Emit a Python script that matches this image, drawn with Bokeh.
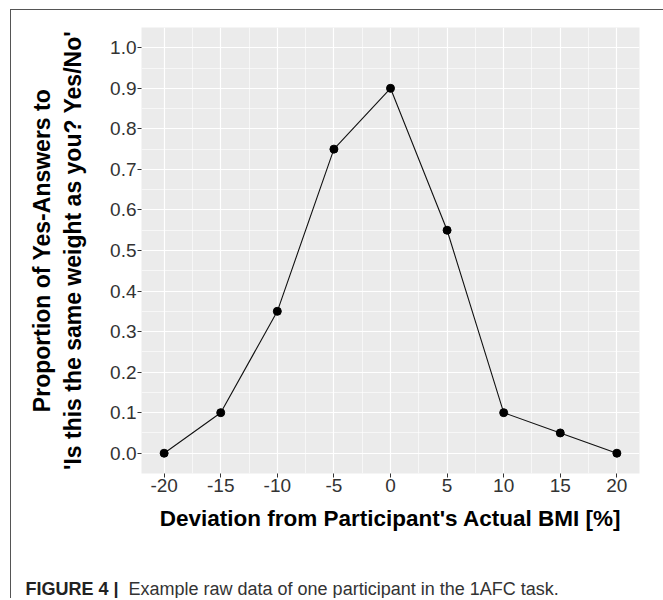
from bokeh.plotting import figure
from bokeh.layouts import column
from bokeh.models import FixedTicker, PrintfTickFormatter, Range1d
from bokeh.core.properties import value
from bokeh.embed import file_html
from bokeh.resources import INLINE

# ---- data ----
deviation = [-20, -15, -10, -5, 0, 5, 10, 15, 20]
yes_prop = [0.0, 0.1, 0.35, 0.75, 0.9, 0.55, 0.1, 0.05, 0.0]
x_ticks = [-20, -15, -10, -5, 0, 5, 10, 15, 20]
y_ticks = [0.0, 0.1, 0.2, 0.3, 0.4, 0.5, 0.6, 0.7, 0.8, 0.9, 1.0]
x_title = "Deviation from Participant's Actual BMI [%]"
y_title = "Proportion of Yes-Answers to\n'Is this the same weight as you? Yes/No'"
caption_bold = "FIGURE 4 |"
caption_text = "Example raw data of one participant in the 1AFC task."

FONT = "Liberation Sans"
W, H = 652, 538
FL, FT, FR, FB = 130, 17, 628, 463  # frame box in figure px

p = figure(width=W, height=H, output_backend="svg", toolbar_location=None,
           title=None,
           x_range=Range1d(-22, 22), y_range=Range1d(-0.05, 1.05),
           min_border_left=FL, min_border_right=W - FR,
           min_border_top=FT, min_border_bottom=H - FB)
p.frame_align = False
p.background_fill_color = "#EBEBEB"
p.border_fill_color = "white"
p.outline_line_color = None

x_minor = [(a + b) / 2 for a, b in zip(x_ticks[:-1], x_ticks[1:])]
y_minor = [(a + b) / 2 for a, b in zip(y_ticks[:-1], y_ticks[1:])]
p.xaxis.ticker = FixedTicker(ticks=x_ticks, minor_ticks=x_minor)
p.yaxis.ticker = FixedTicker(ticks=y_ticks, minor_ticks=y_minor)
p.yaxis.formatter = PrintfTickFormatter(format="%.1f")
p.xaxis.major_label_overrides = {t: str(t) for t in x_ticks}

for ax in (p.xaxis, p.yaxis):
    ax.axis_line_color = None
    ax.major_tick_line_color = "#333333"
    ax.major_tick_in = 0
    ax.major_tick_out = 4
    ax.minor_tick_line_color = None
    ax.major_label_text_font = FONT
    ax.major_label_text_font_size = "19px"
    ax.major_label_text_color = "#333333"
    ax.axis_label_text_font = FONT
    ax.axis_label_text_font_style = "bold"
    ax.axis_label_text_color = "black"

p.xaxis.axis_label_text_font_size = "22.5px"
p.yaxis.axis_label_text_font_size = "23px"
p.xaxis.axis_label = x_title
p.yaxis.axis_label = y_title
p.xaxis.major_label_standoff = 1
p.yaxis.major_label_standoff = 1
p.xaxis.axis_label_standoff = 11
p.yaxis.axis_label_standoff = 21

for g in (p.xgrid, p.ygrid):
    g.grid_line_color = "white"
    g.grid_line_width = 1.2
    g.minor_grid_line_color = "white"
    g.minor_grid_line_width = 0.6

p.line(deviation, yes_prop, line_color="#111111", line_width=1.1)
p.scatter(deviation, yes_prop, size=8, fill_color="black", line_color="black")

# ---- caption strip ----
CH = 50
cap = figure(width=W, height=CH, output_backend="svg", toolbar_location=None,
             title=None, x_axis_type=None, y_axis_type=None,
             x_range=Range1d(0, W), y_range=Range1d(0, CH),
             min_border_left=0, min_border_right=0, min_border_top=0,
             min_border_bottom=0)
cap.frame_align = False
cap.grid.visible = False
cap.outline_line_color = None
cap.background_fill_color = "white"
cap.border_fill_color = "white"
cap.text(x=[14], y=[10], text=[caption_bold], text_font=value(FONT),
         text_font_size="18px", text_font_style="bold", text_color="#222222",
         text_baseline="alphabetic", text_align="left")
cap.text(x=[117], y=[10], text=[caption_text], text_font=value(FONT),
         text_font_size="18px", text_color="#333333",
         text_baseline="alphabetic", text_align="left")

layout = column(p, cap, spacing=0)
layout.styles = {"border-left": "1px solid #555555",
                 "border-top": "1px solid #555555",
                 "margin-left": "10px", "margin-top": "9px"}

open("out.html", "w").write(file_html(layout, INLINE))
